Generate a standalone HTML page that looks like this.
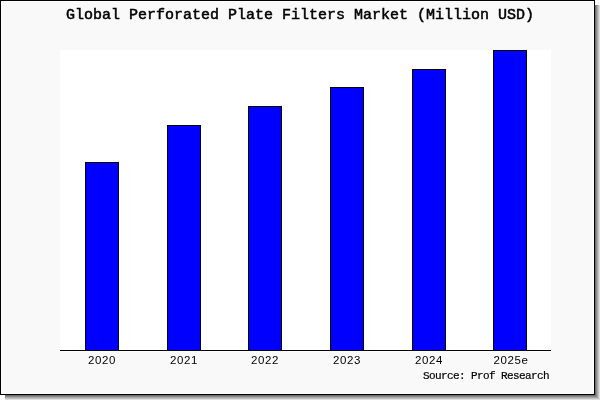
<!DOCTYPE html>
<html><head><meta charset="utf-8">
<style>
html,body{margin:0;padding:0;background:#fff;}
body{width:600px;height:400px;position:relative;overflow:hidden;}
div{position:absolute;box-sizing:border-box;}
#frame{left:0;top:0;width:595px;height:395px;border:1px solid #000;background:#f9f9f9;}
#inner{left:1px;top:1px;width:593px;height:393px;border:1px solid #fff;}
#plot{left:60px;top:50px;width:491px;height:302px;background:#fff;}
#axis{left:60px;top:350px;width:491px;height:1px;background:#000;}
.bar{background:#0000ff;border:1px solid #000;width:34px;}
.t{white-space:pre;line-height:1;}
#title{left:66px;top:7px;will-change:transform;-webkit-text-stroke:0.5px #000;font:15px "Liberation Mono",monospace;color:#000;}
.lbl{top:354px;will-change:transform;letter-spacing:0.6px;font:11.5px "Liberation Sans",sans-serif;color:#000;width:60px;text-align:center;}
#src{left:423px;top:370px;will-change:transform;-webkit-text-stroke:0.2px #000;letter-spacing:-0.6px;font:11px "Liberation Mono",monospace;color:#000;}
</style></head><body>
<div style="left:599px;top:5px;width:1px;height:395px;background:#dedede"></div><div style="left:5px;top:399px;width:595px;height:1px;background:#dedede"></div>
<div style="left:598px;top:5px;width:1px;height:394px;background:#c2c2c2"></div><div style="left:5px;top:398px;width:594px;height:1px;background:#c2c2c2"></div>
<div style="left:597px;top:5px;width:1px;height:393px;background:#a6a6a6"></div><div style="left:5px;top:397px;width:593px;height:1px;background:#a6a6a6"></div>
<div style="left:596px;top:5px;width:1px;height:392px;background:#8a8a8a"></div><div style="left:5px;top:396px;width:592px;height:1px;background:#8a8a8a"></div>
<div style="left:595px;top:5px;width:1px;height:391px;background:#6e6e6e"></div><div style="left:5px;top:395px;width:591px;height:1px;background:#6e6e6e"></div>
<div id="frame"></div>
<div id="inner"></div>
<div id="plot"></div>
<div class="bar" style="left:85px;top:162px;height:189px"></div>
<div class="bar" style="left:167px;top:125px;height:226px"></div>
<div class="bar" style="left:248px;top:106px;height:245px"></div>
<div class="bar" style="left:330px;top:87px;height:264px"></div>
<div class="bar" style="left:412px;top:69px;height:282px"></div>
<div class="bar" style="left:493px;top:50px;height:301px"></div>
<div id="axis"></div>
<div class="t" id="title">Global Perforated Plate Filters Market (Million USD)</div>
<div class="t lbl" style="left:72px">2020</div>
<div class="t lbl" style="left:154px">2021</div>
<div class="t lbl" style="left:235px">2022</div>
<div class="t lbl" style="left:317px">2023</div>
<div class="t lbl" style="left:399px">2024</div>
<div class="t lbl" style="left:480.5px">2025e</div>
<div class="t" id="src">Source: Prof Research</div>
</body></html>
